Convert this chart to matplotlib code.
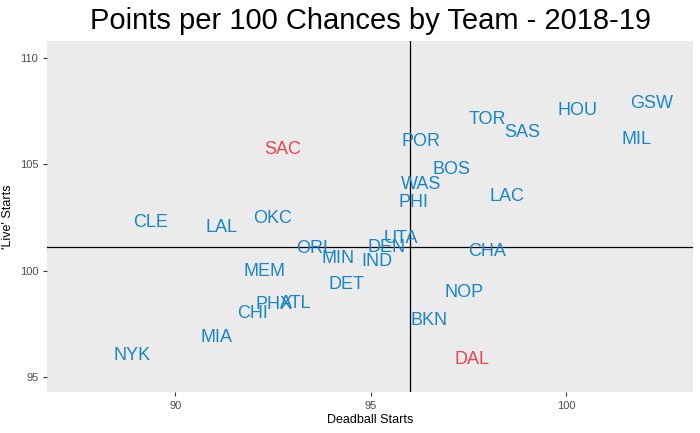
import matplotlib
matplotlib.use("Agg")
import matplotlib.pyplot as plt

plt.rcParams['font.family'] = ['Liberation Sans', 'DejaVu Sans']

# team labels, deadball starts (x), live starts (y)
teams = ['SAC', 'CLE', 'LAL', 'OKC', 'ORL', 'MIN', 'IND', 'DEN', 'UTA', 'DET',
         'MEM', 'PHX', 'ATL', 'CHI', 'MIA', 'NYK', 'CHA', 'NOP', 'BKN', 'DAL',
         'TOR', 'SAS', 'HOU', 'GSW', 'MIL', 'POR', 'BOS', 'WAS', 'PHI', 'LAC']
deadball = [92.76, 89.36, 91.18, 92.48, 93.56, 94.17, 95.17, 95.40, 95.78, 94.37,
            92.28, 92.53, 93.09, 91.97, 91.07, 88.90, 97.98, 97.39, 96.50, 97.60,
            97.98, 98.87, 100.28, 102.20, 101.79, 96.29, 97.08, 96.29, 96.09, 98.49]
live = [105.67, 102.24, 102.05, 102.47, 101.02, 100.55, 100.41, 101.07, 101.49, 99.37,
        99.94, 98.39, 98.44, 97.97, 96.85, 96.04, 100.92, 98.97, 97.65, 95.85,
        107.12, 106.48, 107.50, 107.86, 106.17, 106.06, 104.76, 104.07, 103.21, 103.47]
highlight = ['SAC', 'DAL']

avg_deadball = 96.01
avg_live = 101.13

fig = plt.figure(figsize=(7, 4.33), dpi=100)
ax = fig.add_axes([0.0676, 0.094, 0.922, 0.811])
ax.set_facecolor('#ebebeb')

for t, x, y in zip(teams, deadball, live):
    col = '#e8434f' if t in highlight else '#1a85c6'
    ax.text(x, y, t, color=col, fontsize=13, ha='center', va='center')

ax.axvline(avg_deadball, color='black', lw=0.9)
ax.axhline(avg_live, color='black', lw=0.9)

ax.set_xlim(86.73, 103.24)
ax.set_ylim(94.29, 110.78)
ax.set_xticks([90, 95, 100])
ax.set_yticks([95, 100, 105, 110])
for s in ax.spines.values():
    s.set_visible(False)
ax.tick_params(colors='#333333', labelcolor='#4d4d4d', labelsize=8, length=3, width=0.8)

ax.set_xlabel('Deadball Starts', fontsize=9, labelpad=2)
ax.set_ylabel("'Live' Starts", fontsize=9, labelpad=4)
fig.text(0.5286, (433 - 29) / 433, 'Points per 100 Chances by Team - 2018-19',
         fontsize=21, ha='center', va='baseline')

fig.savefig('out.png', dpi=100)
